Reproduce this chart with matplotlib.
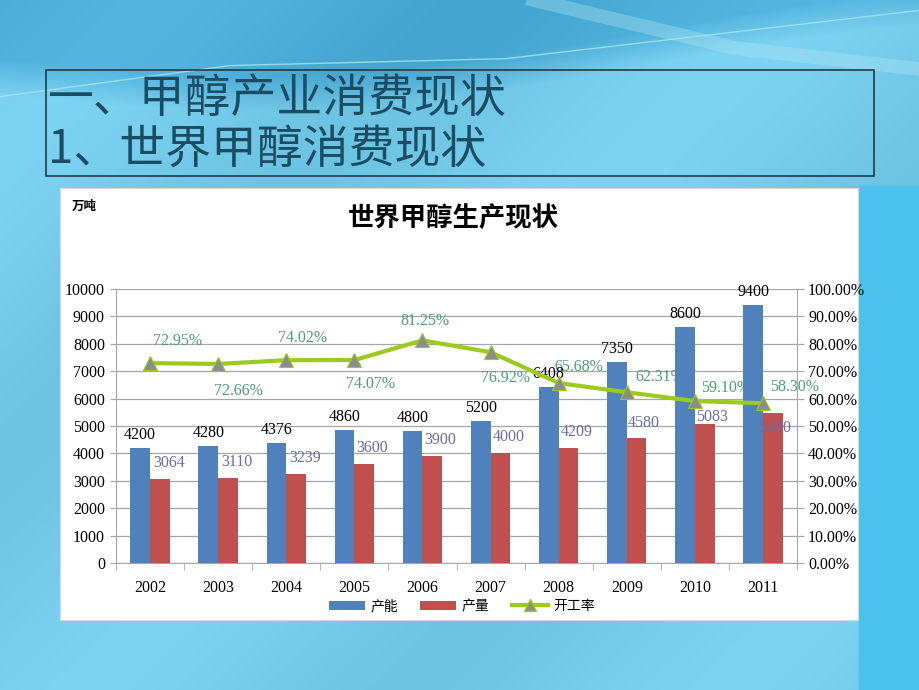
import numpy as np
import matplotlib
matplotlib.use("Agg")
import matplotlib.pyplot as plt
from matplotlib.patches import Rectangle, Patch
from matplotlib.lines import Line2D


years = ["2002", "2003", "2004", "2005", "2006", "2007", "2008", "2009", "2010", "2011"]
capacity = [4200, 4280, 4376, 4860, 4800, 5200, 6408, 7350, 8600, 9400]
output = [3064, 3110, 3239, 3600, 3900, 4000, 4209, 4580, 5083, 5480]
utilization = [72.95, 72.66, 74.02, 74.07, 81.25, 76.92, 65.68, 62.31, 59.10, 58.30]

# label placement (pixel offsets, alignment)
util_offsets = [(28, 22), (20, -27), (16, 22), (16, -24), (2, 19), (15, -26),
                (20, 16), (9, 15), (6, 13), (7, 16)]
util_align = ["center"] * 7 + ["left"] * 3
output_offsets = [(9, 16), (9, 16), (9, 16), (8, 16), (8, 16), (8, 16),
                  (8, 16), (7, 15), (7, 7), (2, -15)]

CJK = ["Noto Sans CJK SC", "DejaVu Sans"]
SERIF = ["Liberation Serif", "DejaVu Serif"]
BLUE = "#4F81BD"
RED = "#C0504D"
GREEN = "#9BCB1E"
GRID = "#A6A6A6"

fig = plt.figure(figsize=(9.2, 6.9), dpi=100)

# slide background: light sea blue, darker band with a swoosh on top
bg = fig.add_axes([0, 0, 1, 1], zorder=-10)
yy, xx = np.mgrid[0:1:230j, 0:1:300j]
base = np.array([0x74, 0xCB, 0xEA]) / 255
top = np.array([0x4C, 0xAE, 0xD8]) / 255
side = np.array([0x4A, 0xC2, 0xEC]) / 255
edge = 0.07 + 0.05 * np.sin(xx * 4.0 + 0.3) - 0.04 * xx
t = np.clip((yy - edge) / 0.05, 0, 1)[..., None]
img = top * (1 - t) + base * t
img = img + 0.03 * np.sin(xx * 9 + yy * 7)[..., None]
img = np.where((xx > 0.935)[..., None] & (yy > 0.27)[..., None], side, img)
bg.imshow(np.clip(img, 0, 1), aspect="auto", extent=[0, 1, 0, 1])
bg.plot([0.0, 0.25, 0.55, 1.0], [0.86, 0.905, 0.915, 0.985], color="#A8E6EC", lw=1.0,
        alpha=0.8, transform=bg.transAxes)
bg.plot([0.58, 0.8, 1.0], [1.0, 0.93, 0.9], color="#B4E6F4", lw=10, alpha=0.35,
        transform=bg.transAxes)
bg.set_xlim(0, 1)
bg.set_ylim(0, 1)
bg.set_axis_off()

# title box
fig.patches.append(Rectangle((46 / 920, 1 - 176 / 690), 828 / 920, 106 / 690,
                             transform=fig.transFigure, fill=False, edgecolor="#1C2F38", lw=1.1))
fig.text(48 / 920, 1 - 99 / 690, "一、甲醇产业消费现状", family=CJK, fontsize=33,
         color="#1A4D63", va="center", ha="left")
fig.text(48 / 920, 1 - 149 / 690, "1、世界甲醇消费现状", family=CJK, fontsize=33,
         color="#1A4D63", va="center", ha="left")

# white chart area
fig.patches.append(Rectangle((60 / 920, 1 - 620 / 690), 798 / 920, 432 / 690,
                             transform=fig.transFigure, facecolor="white", edgecolor="#D8D8D8",
                             lw=0.8, zorder=-5))
fig.text(453 / 920, 1 - 218 / 690, "世界甲醇生产现状", family=CJK, fontsize=19,
         fontweight="bold", ha="center", va="center")
fig.text(72 / 920, 1 - 206 / 690, "万吨", family=CJK, fontsize=9, fontweight="bold",
         ha="left", va="center")

ax = fig.add_axes([116 / 920, 1 - 563 / 690, 681 / 920, 274 / 690])
ax.set_facecolor("none")
ax2 = ax.twinx()

x = np.arange(len(years))
w = 0.29
ax.bar(x - w / 2, capacity, w, color=BLUE, zorder=3)
ax.bar(x + w / 2, output, w, color=RED, zorder=3)

for xi, v in zip(x, capacity):
    ax.annotate(str(v), (xi - w / 2, v), xytext=(0, 5), textcoords="offset pixels",
                ha="center", va="bottom", family=SERIF, fontsize=11.5, color="black", zorder=4)
for xi, v, (dx, dy) in zip(x, output, output_offsets):
    ax.annotate(str(v), (xi + w / 2, v), xytext=(dx, dy), textcoords="offset pixels",
                ha="center", va="center", family=SERIF, fontsize=11.5, color="#6B6BA6", zorder=4)

ax.set_xlim(-0.5, len(years) - 0.5)
ax.set_ylim(0, 10000)
ax.set_yticks(np.arange(0, 10001, 1000))
ax.yaxis.grid(True, color=GRID, lw=0.9, zorder=0)
ax.set_axisbelow(True)
ax.set_xticks(x)
ax.set_xticklabels(years, family=SERIF, fontsize=11.5)
ax.set_xticks(np.arange(-0.5, len(years)), minor=True)
ax.tick_params(axis="x", which="major", length=0, pad=12)
ax.tick_params(axis="x", which="minor", length=5, color=GRID, direction="out")
ax.tick_params(axis="y", length=4, color=GRID, pad=4, labelsize=11.5)
for lab in ax.get_yticklabels():
    lab.set_family(SERIF)
for side_name in ["top", "right"]:
    ax.spines[side_name].set_visible(False)
for side_name in ["left", "bottom"]:
    ax.spines[side_name].set_color(GRID)

ax2.plot(x, utilization, color=GREEN, lw=3, marker="^", markersize=10,
         markerfacecolor="#8C8C8C", markeredgecolor=GREEN, markeredgewidth=0.8, zorder=5)
ax2.set_ylim(0, 100)
ax2.set_yticks(np.arange(0, 101, 10))
ax2.set_yticklabels([f"{v:.2f}%" for v in np.arange(0, 101, 10)], family=SERIF, fontsize=11.5)
ax2.tick_params(axis="y", length=5, color=GRID, pad=3)
for side_name in ["top", "left", "bottom"]:
    ax2.spines[side_name].set_visible(False)
ax2.spines["right"].set_color(GRID)

# line labels sit under the bars, as in the original
for xi, v, (dx, dy), ha in zip(x, utilization, util_offsets, util_align):
    ax.annotate(f"{v:.2f}%", (xi, v), xycoords=ax2.transData, xytext=(dx, dy),
                textcoords="offset pixels", ha=ha, va="center", family=SERIF,
                fontsize=11.5, color="#4E9C78", zorder=2)

handles = [Patch(facecolor=BLUE), Patch(facecolor=RED),
           Line2D([], [], color=GREEN, lw=3, marker="^", markersize=8,
                  markerfacecolor="#8C8C8C", markeredgecolor=GREEN)]
fig.legend(handles, ["产能", "产量", "开工率"], loc="center", bbox_to_anchor=(462 / 920, 1 - 606 / 690),
           ncol=3, frameon=False, prop={"family": CJK, "size": 10}, handlelength=2.6,
           handleheight=0.6, columnspacing=1.6, handletextpad=0.4)

fig.savefig("out.png", dpi=100)
